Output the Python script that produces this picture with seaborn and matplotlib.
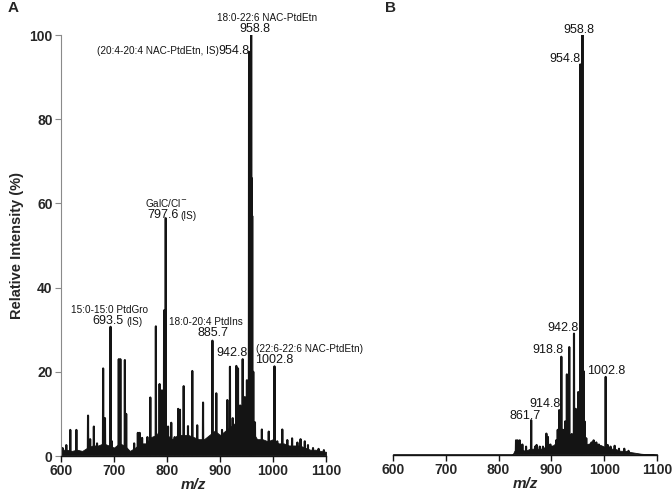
import numpy as np
import pandas as pd
import matplotlib
matplotlib.use("Agg")
import matplotlib.pyplot as plt
import seaborn as sns

sns.set_theme(style="white")
plt.rcParams['font.family'] = ['Liberation Sans', 'DejaVu Sans']

# ---------------- data: panel A (peak list) ----------------
a_mz = [603, 610, 617.5, 629, 651, 655, 662, 668, 679.5, 683, 693.5, 696, 709, 712,
        720.5, 723, 738, 745, 748.5, 753, 763, 768.5, 779, 786, 790.5, 794.5, 797.6,
        802, 808, 814.5, 821, 824.5, 831.5, 839.6, 847.7, 857, 868, 874, 885.7, 893,
        903.8, 913.8, 918.8, 924, 930.8, 934, 938, 942.8, 946.8, 950.8, 954.8, 955.8,
        956.8, 957.8, 958.8, 959.8, 960.8, 962.8, 966, 979, 992, 1002.8, 1008, 1017.5,
        1027, 1036, 1046, 1052, 1060, 1066, 1075.5, 1086, 1096]
a_int = [1.9, 2.6, 6.2, 6.2, 9.6, 4.0, 7.0, 3.0, 20.8, 9.0, 30.7, 3.5, 23.0, 23.0,
         22.8, 10.0, 3.0, 5.5, 5.5, 4.3, 4.5, 13.9, 30.8, 17.1, 15.6, 34.6, 56.5,
         7.0, 7.9, 4.5, 11.2, 11.0, 16.6, 7.1, 20.2, 7.3, 12.7, 3.3, 27.4, 14.9,
         6.2, 13.3, 21.2, 9.0, 21.4, 20.8, 12.0, 23.0, 14.0, 18.0, 96.0, 92.0,
         77.0, 85.0, 100.0, 66.0, 57.0, 20.0, 8.0, 6.3, 5.8, 21.3, 3.5, 6.3,
         3.8, 4.2, 3.2, 4.0, 3.5, 2.6, 1.9, 1.7, 1.4]

# baseline noise envelope, panel A
a_env_mz = [600, 610, 620, 630, 640, 650, 660, 670, 680, 690, 700, 710, 720, 730, 740,
            750, 760, 770, 780, 790, 800, 810, 820, 830, 840, 850, 860, 870, 880, 890,
            900, 910, 920, 930, 940, 950, 960, 970, 980, 990, 1000, 1010, 1020, 1030,
            1040, 1050, 1060, 1070, 1080, 1090, 1100]
a_env_int = [1.5, 1.5, 1.2, 1.5, 1.2, 2.0, 2.5, 2.5, 3.0, 2.5, 2.0, 3.0, 2.5, 1.2, 2.0,
             3.0, 3.0, 4.5, 5.0, 7.0, 5.0, 4.0, 5.0, 5.0, 5.0, 4.5, 4.0, 4.0, 5.0, 6.0,
             5.0, 6.0, 7.0, 8.0, 8.0, 9.0, 6.0, 4.0, 4.0, 3.5, 4.0, 3.0, 3.0, 2.5,
             2.5, 2.5, 2.0, 1.5, 1.5, 1.2, 1.0]

# ---------------- data: panel B ----------------
b_mz = [833, 836, 840, 845, 852, 861.7, 869, 872, 878, 884, 890.5, 893.5, 898, 902,
        909, 912, 914.8, 918.8, 922, 926, 929.3, 933.8, 938.6, 942.8, 946, 950.8,
        954.8, 955.8, 956.8, 957.8, 958.8, 960.8, 962.8, 966, 972, 976, 980, 985, 990,
        995, 1002.8, 1006.6, 1012, 1019.8, 1028, 1038, 1046]
b_int = [3.5, 3.5, 3.5, 2.5, 2.0, 8.3, 2.0, 2.4, 2.0, 2.0, 5.1, 4.3, 2.5, 2.0,
         3.5, 6.0, 10.7, 23.4, 6.0, 8.0, 19.2, 25.7, 5.0, 28.9, 11.0, 15.0,
         93.0, 88.0, 75.0, 80.0, 100.0, 20.0, 8.0, 4.0, 2.5, 3.0, 3.5, 3.0, 2.5,
         2.0, 18.6, 2.4, 2.0, 2.2, 1.5, 1.5, 1.0]

b_env_mz = [600, 826, 830, 840, 850, 860, 870, 880, 890, 900, 910, 920, 930, 940, 950,
            960, 970, 980, 990, 1000, 1010, 1020, 1030, 1040, 1050, 1060, 1070, 1100]
b_env_int = [0.0, 0.0, 1.0, 1.5, 1.0, 1.5, 1.5, 1.5, 2.0, 2.0, 3.0, 4.0, 4.0, 4.0, 4.0,
             3.0, 2.5, 3.0, 2.5, 2.0, 1.5, 1.5, 1.0, 1.0, 0.7, 0.5, 0.3, 0.0]

x_ticks = [600, 700, 800, 900, 1000, 1100]
y_ticks = [0, 20, 40, 60, 80, 100]

# ---------------- labels ----------------
NAME, NUM = 7.2, 9.0
a_labels = [
    ("18:0-22:6 NAC-PtdEtn", 988.7, 104.1, NAME, "center"),
    ("958.8", 965.5, 101.4, NUM, "center"),
    ("(20:4-20:4 NAC-PtdEtn, IS)", 897.2, 96.2, NAME, "right"),
    ("954.8", 956.6, 96.2, NUM, "right"),
    ("GalC/Cl$^{-}$", 797.5, 60.0, NAME, "center"),
    ("797.6", 821.3, 57.2, NUM, "right"),
    ("(IS)", 824.5, 57.0, NAME, "left"),
    ("15:0-15:0 PtdGro", 690.9, 34.7, NAME, "center"),
    ("693.5", 717.5, 32.1, NUM, "right"),
    ("(IS)", 722.6, 31.9, NAME, "left"),
    ("18:0-20:4 PtdIns", 873.3, 31.8, NAME, "center"),
    ("885.7", 886.2, 29.1, NUM, "center"),
    ("942.8", 923.5, 24.5, NUM, "center"),
    ("(22:6-22:6 NAC-PtdEtn)", 967.9, 25.3, NAME, "left"),
    ("1002.8", 1001.9, 22.7, NUM, "center"),
]
b_labels = [
    ("958.8", 951.6, 101.3, NUM, "center"),
    ("954.8", 925.8, 94.4, NUM, "center"),
    ("942.8", 922.9, 30.3, NUM, "center"),
    ("918.8", 894.3, 24.9, NUM, "center"),
    ("1002.8", 1004.0, 20.0, NUM, "center"),
    ("914.8", 887.3, 12.1, NUM, "center"),
    ("861.7", 850.8, 9.3, NUM, "center"),
]

INK = "#141414"


def profile(mz, inten, hw=0.42, base=0.4):
    xs, ys = [], []
    for m, h in sorted(zip(mz, inten)):
        xs += [m - hw, m, m + hw]
        ys += [base, h, base]
    return pd.DataFrame({"mz": xs, "intensity": ys})


fig = plt.figure(figsize=(6.72, 4.98), dpi=100)
axA = fig.add_axes([61 / 672, 1 - 456 / 498, 265 / 672, 421 / 498])
axB = fig.add_axes([393 / 672, 1 - 455 / 498, 264 / 672, 420 / 498])

for ax, mz, inten, emz, eint, labels in [
    (axA, a_mz, a_int, a_env_mz, a_env_int, a_labels),
    (axB, b_mz, b_int, b_env_mz, b_env_int, b_labels),
]:
    ax.fill_between(emz, 0.2, eint, color=INK, lw=0.6, edgecolor=INK)
    sns.lineplot(data=profile(mz, inten), x="mz", y="intensity", sort=False,
                 estimator=None, color=INK, lw=1.5, ax=ax)
    ax.set_xlim(600, 1100)
    ax.set_ylim(0, 100)
    ax.set_xticks(x_ticks)
    ax.set_xticklabels([str(t) for t in x_ticks], fontsize=10, fontweight="bold")
    for s in ["top", "right"]:
        ax.spines[s].set_visible(False)
    ax.spines["bottom"].set_color(INK)
    ax.spines["bottom"].set_linewidth(1.0)
    ax.tick_params(axis="x", direction="out", length=4, width=1.0, color=INK,
                   pad=2, bottom=True)
    ax.set_xlabel("m/z", fontsize=11, fontweight="bold", fontstyle="italic",
                  labelpad=0)
    ax.grid(False)
    for txt, x, y, size, ha in labels:
        ax.text(x, y, txt, fontsize=size, ha=ha, va="center", color=INK,
                clip_on=False)

axA.set_yticks(y_ticks)
axA.set_yticklabels([str(t) for t in y_ticks], fontsize=10, fontweight="bold")
axA.spines["left"].set_color("#8a8a8a")
axA.spines["left"].set_linewidth(0.8)
axA.tick_params(axis="y", direction="out", length=4, width=0.8, color="#8a8a8a",
                pad=2, left=True)
axA.set_ylabel("Relative Intensity (%)", fontsize=10.5, fontweight="bold",
               labelpad=4)

axB.spines["left"].set_visible(False)
axB.set_yticks([])
axB.set_ylabel("")

fig.text(8 / 672, 1 - 1 / 498, "A", fontsize=11, fontweight="bold", va="top", ha="left")
fig.text(385 / 672, 1 - 1 / 498, "B", fontsize=11, fontweight="bold", va="top", ha="left")

fig.savefig("out.png", dpi=100)
